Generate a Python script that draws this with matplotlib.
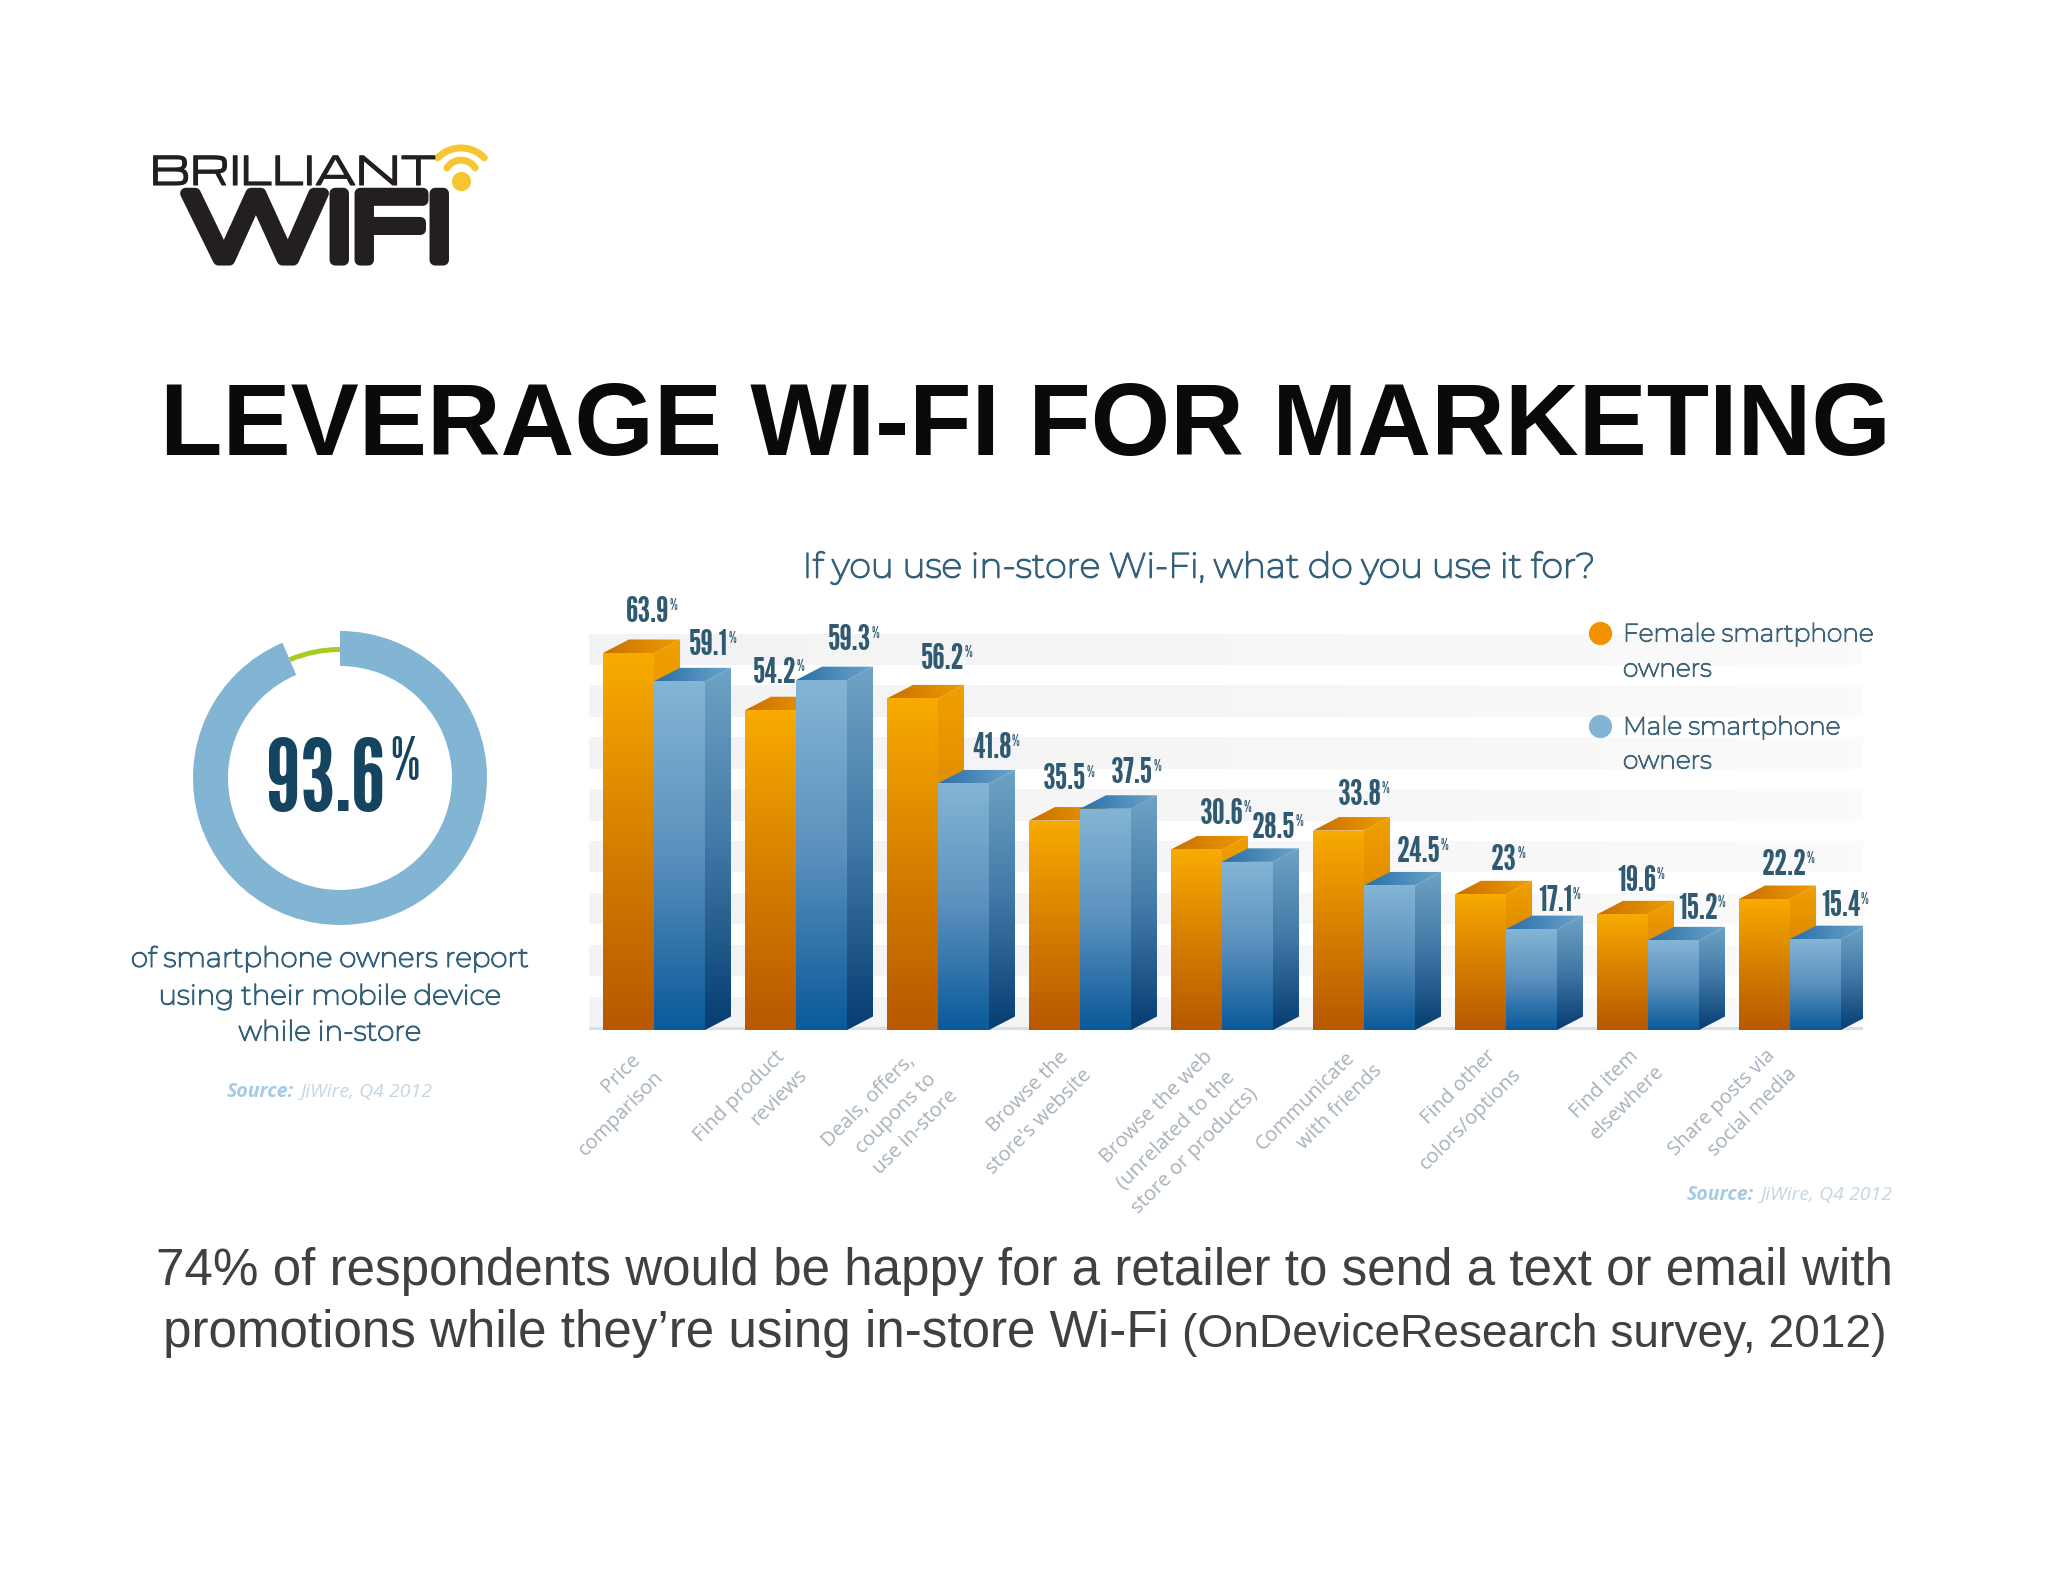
import numpy as np
import matplotlib
matplotlib.use("Agg")
import logging
import matplotlib.pyplot as plt
import matplotlib.patheffects as pe
from matplotlib.colors import LinearSegmentedColormap
from matplotlib.patches import Polygon

logging.getLogger("matplotlib.font_manager").setLevel(logging.ERROR)

# ----------------------------------------------------
# Data
# ----------------------------------------------------

categories = [
    "Price\ncomparison",
    "Find product\nreviews",
    "Deals, offers,\ncoupons to\nuse in-store",
    "Browse the\nstore's website",
    "Browse the web\n(unrelated to the\nstore or products)",
    "Communicate\nwith friends",
    "Find other\ncolors/options",
    "Find item\nelsewhere",
    "Share posts via\nsocial media",
]
female = [63.9, 54.2, 56.2, 35.5, 30.6, 33.8, 23, 19.6, 22.2]
male = [59.1, 59.3, 41.8, 37.5, 28.5, 24.5, 17.1, 15.2, 15.4]
female_labels = ["63.9", "54.2", "56.2", "35.5", "30.6", "33.8", "23", "19.6", "22.2"]
male_labels = ["59.1", "59.3", "41.8", "37.5", "28.5", "24.5", "17.1", "15.2", "15.4"]
donut_values = [93.6, 6.4]

# label nudges, in pixels
female_dx = [45, 30, 56, 36, 51, 47, 49, 40, 45]
female_dy = [40, 37, 39, 41, 35, 35, 34, 33, 34]
male_dx = [55, 54, 54, 52, 52, 55, 49, 50, 51]
male_dy = [36, 40, 35, 35, 33, 33, 28, 31, 33]
cat_centres = [
    [(621, 1073), (621, 1114)],
    [(739, 1097), (779, 1097)],
    [(869, 1101), (896, 1114), (916, 1132)],
    [(1028, 1092), (1039, 1122)],
    [(1157, 1107), (1176, 1130), (1195, 1151)],
    [(1306, 1101), (1340, 1107)],
    [(1459, 1087), (1471, 1119)],
    [(1605, 1084), (1627, 1103)],
    [(1722, 1103), (1753, 1112)],
]

W, H = 2048, 1582
NARROW = ["League Gothic", "Bebas Neue", "Liberation Sans"]
WIDE = ["Montserrat", "DejaVu Sans"]
LOGO = ["Michroma", "DejaVu Sans"]
TEXT_BLUE = "#33607a"

fig = plt.figure(figsize=(W / 100, H / 100), dpi=100, facecolor="white")


def px_axes(x0, y0, x1, y1):
    return fig.add_axes([x0 / W, 1 - y1 / H, (x1 - x0) / W, (y1 - y0) / H])


def fatten(width, colour):
    return [pe.withStroke(linewidth=width, foreground=colour)]


# ----------------------------------------------------
# Bars
# ----------------------------------------------------

PX_GROUP = 142
PX_UNIT = 5.9
BASE_Y = 1030
X_ORIGIN = 603
bar_w = 51 / PX_GROUP
depth_x = 26 / PX_GROUP
depth_y = 13.5 / PX_UNIT

ax = px_axes(589, 590, 1863, BASE_Y)
ax.set_xlim((589 - X_ORIGIN) / PX_GROUP, (1863 - X_ORIGIN) / PX_GROUP)
ax.set_ylim(0, 440 / PX_UNIT)
ax.axis("off")

grad = np.linspace(0, 1, 128).reshape(-1, 1)
cm_band = LinearSegmentedColormap.from_list("b", ["#f3f3f5", "#f6f6f7", "#fbfbfb"])
cm_f_front = LinearSegmentedColormap.from_list("f1", ["#b85800", "#d67f00", "#f8ab00"])
cm_f_side = LinearSegmentedColormap.from_list("f2", ["#b05400", "#d88200", "#f0a000"])
cm_f_top = LinearSegmentedColormap.from_list("f3", ["#c96f00", "#ee9c00"])
cm_m_front = LinearSegmentedColormap.from_list("m1", ["#0a5a9a", "#5a90bd", "#84b5d5"])
cm_m_side = LinearSegmentedColormap.from_list("m2", ["#063d72", "#3f78a6", "#6fa3c5"])
cm_m_top = LinearSegmentedColormap.from_list("m3", ["#2a6fa8", "#6ba4cb"])


def face(verts, cmap, z, sideways=False):
    # gradient image clipped to the polygon of one bar face
    verts = np.array(verts)
    ybottom = verts[:, 1].min() if sideways else 0
    img = ax.imshow(
        grad.T if sideways else grad,
        cmap=cmap,
        origin="lower",
        aspect="auto",
        zorder=z,
        extent=(verts[:, 0].min(), verts[:, 0].max(), ybottom, verts[:, 1].max()),
    )
    img.set_clip_path(Polygon(verts, transform=ax.transData))


def bar3d(x, v, cmaps, z):
    x1 = x + bar_w
    face([(x1, 0), (x1 + depth_x, depth_y), (x1 + depth_x, v + depth_y), (x1, v)], cmaps[1], z)
    face([(x, v), (x1, v), (x1 + depth_x, v + depth_y), (x + depth_x, v + depth_y)], cmaps[2], z, sideways=True)
    face([(x, 0), (x1, 0), (x1, v), (x, v)], cmaps[0], z + 0.1)


x_lo, x_hi = (589 - X_ORIGIN) / PX_GROUP, (1863 - X_ORIGIN) / PX_GROUP
for k in range(8):
    y0, y1 = 0.3 + 8.8 * k, 5.6 + 8.8 * k
    face([(x_lo, y0), (x_hi, y0), (x_hi, y1), (x_lo, y1)], cm_band, 0, sideways=True)
ax.axhspan(-0.1, 0.45, color="#dcdfe2", lw=0, zorder=1)

for i in range(len(categories)):
    z = 2 + i
    bar3d(i, female[i], (cm_f_front, cm_f_side, cm_f_top), z)
    bar3d(i + bar_w, male[i], (cm_m_front, cm_m_side, cm_m_top), z + 0.5)

ax.set_xlim(x_lo, x_hi)
ax.set_ylim(0, 440 / PX_UNIT)


def value_label(x, v, text, dx, dy):
    num = ax.annotate(text, xy=(x, v), xytext=(dx, dy), textcoords="offset pixels",
                      ha="center", va="center", fontsize=26, family=NARROW,
                      color="#2f5a72", zorder=50, annotation_clip=False)
    ax.annotate("%", xy=(1, 1), xycoords=num, xytext=(0, -2), textcoords="offset pixels",
                ha="left", va="top", fontsize=11, family=NARROW,
                color="#2f5a72", zorder=50, annotation_clip=False)


for i in range(len(categories)):
    value_label(i, female[i], female_labels[i], female_dx[i], female_dy[i])
    value_label(i + bar_w, male[i], male_labels[i], male_dx[i], male_dy[i])

# ----------------------------------------------------
# Donut
# ----------------------------------------------------

R = 147
ax_d = px_axes(340 - R, 778 - R, 340 + R, 778 + R)
ax_d.pie(donut_values, startangle=90, counterclock=False, radius=1.0,
         colors=["#82b4d3", "none"], wedgeprops={"width": 35 / R, "linewidth": 0})
ax_d.pie(donut_values, startangle=90, counterclock=False, radius=131 / R,
         colors=["none", "#a5cc1e"], wedgeprops={"width": 5 / R, "linewidth": 0})
ax_d.set_xlim(-1, 1)
ax_d.set_ylim(-1, 1)

# ----------------------------------------------------
# Everything else, on a full figure pixel overlay
# ----------------------------------------------------

ov = fig.add_axes([0, 0, 1, 1], zorder=100)
ov.set_xlim(0, W)
ov.set_ylim(H, 0)
ov.axis("off")
ov.patch.set_alpha(0)

# logo
ov.text(150, 185, "BRILLIANT", ha="left", va="baseline", fontsize=28, family=LOGO,
        color="#231f20", path_effects=fatten(0.8, "#231f20"))
ov.text(317, 260, "WIFI", ha="center", va="baseline", fontsize=64, family=LOGO,
        color="#231f20", path_effects=fatten(8, "#231f20"))
for r, cy, half in [(32.6, 180.6, 0.8), (16.8, 177, 1.0)]:
    t = np.linspace(-half, half, 40)
    ov.plot(461 + r * np.sin(t), cy - r * np.cos(t), color="#f6c52f", lw=5, solid_capstyle="round")
ov.scatter([461], [181], s=190, color="#f6c52f", lw=0)

# headings
ov.text(1025, 428, "LEVERAGE WI-FI FOR MARKETING", ha="center", va="center",
        fontsize=73.5, weight="bold", family="Liberation Sans", color="#0a0a0a")
ov.text(1200, 568, "If you use in-store Wi-Fi, what do you use it for?", ha="center", va="center",
        fontsize=25, family=WIDE, color=TEXT_BLUE, path_effects=fatten(1.2, TEXT_BLUE))

# donut text
ov.text(326, 784, "93.6", ha="center", va="center", fontsize=72, family=NARROW, color="#14445f")
ov.text(405, 763, "%", ha="center", va="center", fontsize=42, family=NARROW, color="#14445f")
for y, line in [(959, "of smartphone owners report"),
                (997, "using their mobile device"),
                (1033, "while in-store")]:
    ov.text(330, y, line, ha="center", va="center", fontsize=20, family=WIDE, color=TEXT_BLUE,
            path_effects=fatten(1.0, TEXT_BLUE))

# source notes
for x, y in [(227, 1092), (1687, 1195)]:
    ov.text(x, y, "Source:", ha="left", va="center", fontsize=14, style="italic", weight="bold",
            family="Open Sans", color="#a3cbe4")
    ov.text(x + 73, y, "JiWire, Q4 2012", ha="left", va="center", fontsize=14, style="italic",
            family="Open Sans", color="#c4d6e4")

# legend
ov.scatter([1600], [633], s=280, color="#f39200", lw=0)
ov.scatter([1600], [726], s=280, color="#82b4d3", lw=0)
for y, line in [(635, "Female smartphone"), (670, "owners"), (728, "Male smartphone"), (762, "owners")]:
    ov.text(1623, y, line, ha="left", va="center", fontsize=18, family=WIDE, color="#3f6479",
            path_effects=fatten(0.9, "#3f6479"))

# category labels, one text per line since the lines are sheared not stacked
for cat, centres in zip(categories, cat_centres):
    for line, (x, y) in zip(cat.split("\n"), centres):
        ov.text(x, y, line, ha="center", va="center", rotation=45, fontsize=14.5,
                family="Open Sans", color="#a7b1bc")

# bottom note
ov.text(1025, 1271, "74% of respondents would be happy for a retailer to send a text or email with",
        ha="center", va="center", fontsize=36.8, family="Liberation Sans", color="#404040")
ov.text(163, 1333, "promotions while they\u2019re using in-store Wi-Fi", ha="left", va="center",
        fontsize=36.8, family="Liberation Sans", color="#404040")
ov.text(1887, 1335, "(OnDeviceResearch survey, 2012)", ha="right", va="center",
        fontsize=33.2, family="Liberation Sans", color="#404040")

fig.savefig("out.png", dpi=100)
